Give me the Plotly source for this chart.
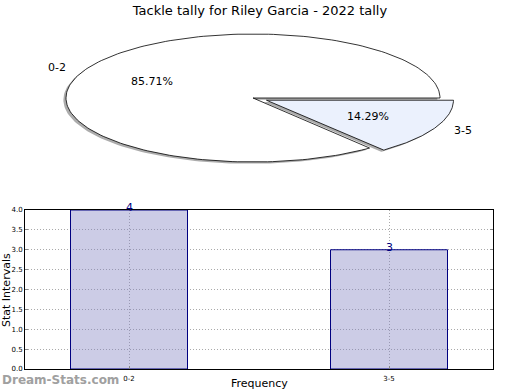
import numpy as np
import plotly.graph_objects as go

title = "Tackle tally for Riley Garcia - 2022 tally"
pie_labels = ["0-2", "3-5"]
pie_values = [6, 1]
pie_colors = ["#ffffff", "#ebf1fd"]
pie_explode = [0.0, 0.08]
bar_categories = ["0-2", "3-5"]
bar_values = [4, 3]
y_ticks = [0.0, 0.5, 1.0, 1.5, 2.0, 2.5, 3.0, 3.5, 4.0]

FONT = "DejaVu Sans"
fig = go.Figure()

# ---- tilted pie drawn as ellipse slices in its own axes ----
total = float(sum(pie_values))
slices = []
a0 = 0.0
for lab, v, col, ex in zip(pie_labels, pie_values, pie_colors, pie_explode):
    a1 = a0 + 360.0 * v / total
    mid = np.deg2rad((a0 + a1) / 2)
    cx, cy = ex * np.cos(mid), ex * np.sin(mid)
    th = np.deg2rad(np.linspace(a0, a1, 200))
    xs = np.concatenate([[cx], cx + np.cos(th), [cx]])
    ys = np.concatenate([[cy], cy + np.sin(th), [cy]])
    slices.append((lab, v, col, cx, cy, mid, xs, ys))
    a0 = a1

for lab, v, col, cx, cy, mid, xs, ys in slices:
    fig.add_trace(go.Scatter(x=xs - 0.014, y=ys - 0.028, mode="lines", fill="toself",
                             fillcolor="rgba(90,90,90,0.5)", line=dict(width=0),
                             hoverinfo="skip", showlegend=False, xaxis="x2", yaxis="y2"))
for lab, v, col, cx, cy, mid, xs, ys in slices:
    fig.add_trace(go.Scatter(x=xs, y=ys, mode="lines", fill="toself", fillcolor=col,
                             line=dict(color="black", width=0.8),
                             hoverinfo="skip", showlegend=False, xaxis="x2", yaxis="y2"))
    lx, ly = cx + 1.1 * np.cos(mid), cy + 1.1 * np.sin(mid)
    fig.add_annotation(x=lx, y=ly, xref="x2", yref="y2", text=lab, showarrow=False,
                       xanchor="left" if lx > 0 else "right", yanchor="middle",
                       font=dict(family=FONT, size=11, color="black"))
    px, py = cx + 0.6 * np.cos(mid), cy + 0.6 * np.sin(mid)
    fig.add_annotation(x=px, y=py, xref="x2", yref="y2", text="%.2f%%" % (100 * v / total),
                       showarrow=False, xanchor="center", yanchor="middle",
                       font=dict(family=FONT, size=11, color="black"))

# ---- bar chart ----
fig.add_trace(go.Bar(x=bar_categories, y=bar_values, width=0.45,
                     marker=dict(color="rgba(128,128,193,0.4)",
                                 line=dict(color="#000080", width=1)),
                     hoverinfo="skip", showlegend=False))
for c, v in zip(bar_categories, bar_values):
    fig.add_annotation(x=c, y=v, text=str(v), showarrow=False, yanchor="bottom", yshift=-6,
                       font=dict(family=FONT, size=11, color="#000080"))

W, H = 520, 390
grid = dict(showgrid=True, gridcolor="#aaaaaa", griddash="1px,2px", gridwidth=1)
fig.update_layout(
    width=W, height=H, margin=dict(l=0, r=0, t=0, b=0, autoexpand=False),
    paper_bgcolor="white", plot_bgcolor="white",
    title=dict(text=title, x=0.5, xanchor="center", y=1 - 10 / H, yanchor="middle",
               font=dict(family=FONT, size=13, color="black")),
    xaxis=dict(domain=[25 / W, 493 / W], type="category", range=[-0.4, 1.4],
               automargin=False, ticklabelstandoff=3,
               showline=True, linecolor="black", linewidth=1, mirror=True,
               ticks="inside", ticklen=3, tickcolor="#888",
               tickfont=dict(family=FONT, size=7, color="black"), zeroline=False, **grid),
    yaxis=dict(domain=[1 - 369 / H, 1 - 210 / H], range=[0, 4], automargin=False,
               tickvals=y_ticks, ticktext=["%.1f" % t for t in y_ticks],
               showline=True, linecolor="black", linewidth=1, mirror="ticks",
               ticks="inside", ticklen=3, tickcolor="#888",
               tickfont=dict(family=FONT, size=7, color="black"), zeroline=False, **grid),
    xaxis2=dict(domain=[0, 1], range=[-253 / 187, (W - 253) / 187], visible=False,
                anchor="y2", fixedrange=True, automargin=False),
    yaxis2=dict(domain=[0.5, 1], range=[-(195 - 98) / 64, 98 / 64], visible=False,
                anchor="x2", fixedrange=True, automargin=False),
)

fig.add_annotation(x=6 / W, y=1 - 290 / H, xref="paper", yref="paper", text="Stat Intervals",
                   textangle=-90, showarrow=False, xanchor="center", yanchor="middle",
                   font=dict(family=FONT, size=11, color="black"))
fig.add_annotation(x=259 / W, y=0, xref="paper", yref="paper", text="Frequency",
                   showarrow=False, xanchor="center", yanchor="bottom", yshift=-2,
                   font=dict(family=FONT, size=11, color="black"))
fig.add_annotation(x=0, y=1 - 380 / H, xref="paper", yref="paper", text="<b>Dream-Stats.com</b>",
                   showarrow=False, xanchor="left", yanchor="middle",
                   font=dict(family=FONT, size=12, color="#a0a0a0"))

fig.write_html("out.html", config={"displayModeBar": False},
               post_script="document.body.style.margin='0';")
